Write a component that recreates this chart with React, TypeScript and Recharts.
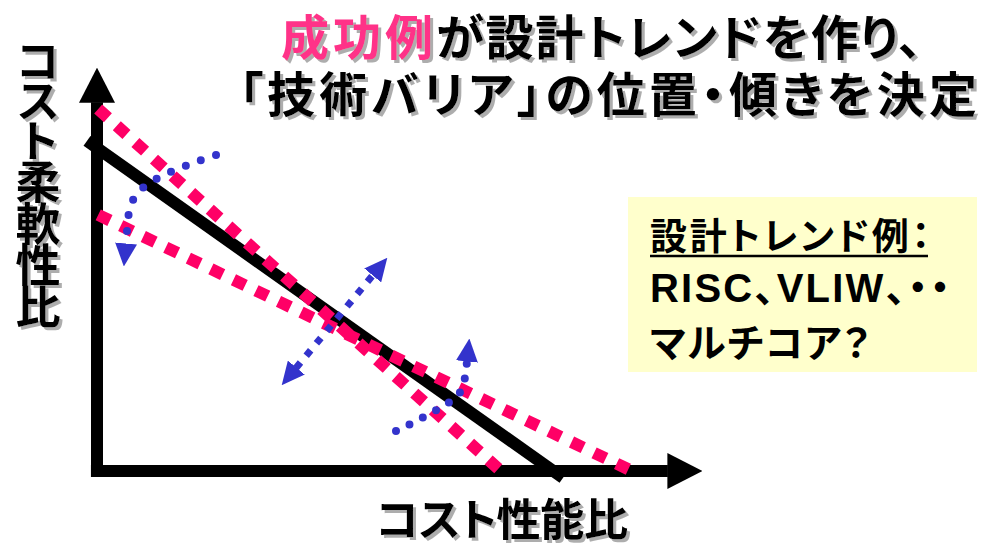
import { LineChart, Line, XAxis, YAxis } from 'recharts';

// diagram coordinates: % of axis length, origin at the axis corner
const AXIS_X = [{ x: -1, y: 0 }, { x: 94.2, y: 0 }];
const AXIS_Y = [{ x: 0, y: -1.5 }, { x: 0, y: 91.3 }];
const BARRIER = [{ x: -1.65, y: 81.7 }, { x: 76.9, y: -1.7 }];
const TREND_STEEP = [{ x: 0.2, y: 89.6 }, { x: 66.8, y: -0.2 }];
const TREND_SHALLOW = [{ x: 0.2, y: 63.4 }, { x: 88, y: 0.2 }];
const SHIFT_UPPER = [
  { x: 19.64, y: 78.22 },
  { x: 14.52, y: 75.5 },
  { x: 9.74, y: 72.28 },
  { x: 5.94, y: 67.08 },
  { x: 4.95, y: 59.41 },
  { x: 4.79, y: 56.19 },
];
const SHIFT_CROSS = [{ x: 32.84, y: 25.5 }, { x: 45.54, y: 48.51 }];
const SHIFT_LOWER = [
  { x: 49.34, y: 9.9 },
  { x: 53.96, y: 13.37 },
  { x: 58.42, y: 17.33 },
  { x: 60.4, y: 21.04 },
  { x: 61.06, y: 27.23 },
];

const TITLE_PINK = '成功例';
const TITLE_REST = 'が設計トレンドを作り、';
const TITLE_LINE2 = '「技術バリア」の位置・傾きを決定';
const Y_LABEL = 'コスト柔軟性比';
const X_LABEL = 'コスト性能比';
const BOX_LINES = ['設計トレンド例：', 'RISC、VLIW、・・', 'マルチコア？'];

const W = 986;
const H = 545;
const ORIGIN_X = 97;
const ORIGIN_Y = 471;
const PX_X = 6.06;
const PX_Y = 4.04;
const X_DOMAIN: [number, number] = [-ORIGIN_X / PX_X, (W - ORIGIN_X) / PX_X];
const Y_DOMAIN: [number, number] = [-(H - ORIGIN_Y) / PX_Y, ORIGIN_Y / PX_Y];

const PINK = '#ff0066';
const BLUE = '#3333cc';
const JP = "'Noto Sans CJK JP', sans-serif";

function Label({ x, y, children, fill = '#000', size, length, anchor = 'start', family = JP, shadow = true }: any) {
  return (
    <text
      x={x}
      y={y}
      fill={fill}
      fontFamily={family}
      fontWeight={700}
      fontSize={size}
      dominantBaseline="central"
      textAnchor={anchor}
      textLength={length}
      lengthAdjust={length ? 'spacing' : undefined}
      filter={shadow ? 'url(#textShadow)' : undefined}
      style={{ fontFeatureSettings: '"palt"' }}
    >
      {children}
    </text>
  );
}

export default function App() {
  return (
    <div style={{ position: 'absolute', left: 0, top: 0, width: W, height: H, background: '#fff' }}>
      <svg width={0} height={0} style={{ position: 'absolute' }}>
        <defs>
          <marker id="axisHead" viewBox="0 0 35 36" refX={0.5} refY={18} markerWidth={35} markerHeight={36} markerUnits="userSpaceOnUse" orient="auto">
            <path d="M0,0 L35,18 L0,36 Z" fill="#000" />
          </marker>
          <marker id="blueHead" viewBox="0 0 23 22" refX={0.5} refY={11} markerWidth={23} markerHeight={22} markerUnits="userSpaceOnUse" orient="auto">
            <path d="M0,0 L23,11 L0,22 Z" fill={BLUE} />
          </marker>
          <marker id="blueHeadStart" viewBox="0 0 23 22" refX={22.5} refY={11} markerWidth={23} markerHeight={22} markerUnits="userSpaceOnUse" orient="auto">
            <path d="M23,0 L0,11 L23,22 Z" fill={BLUE} />
          </marker>
          <filter id="textShadow" x="-10%" y="-20%" width="130%" height="150%">
            <feDropShadow dx={3} dy={3} stdDeviation={0.6} floodColor="#999" floodOpacity={0.8} />
          </filter>
        </defs>
      </svg>
      <LineChart width={W} height={H} margin={{ top: 0, right: 0, bottom: 0, left: 0 }}>
        <XAxis type="number" dataKey="x" domain={X_DOMAIN} hide allowDataOverflow />
        <YAxis type="number" dataKey="y" domain={Y_DOMAIN} hide allowDataOverflow />
        <Line data={AXIS_X} dataKey="y" stroke="#000" strokeWidth={12} dot={false} activeDot={false} isAnimationActive={false} markerEnd="url(#axisHead)" />
        <Line data={AXIS_Y} dataKey="y" stroke="#000" strokeWidth={12} dot={false} activeDot={false} isAnimationActive={false} markerEnd="url(#axisHead)" />
        <Line data={BARRIER} dataKey="y" stroke="#000" strokeWidth={12} dot={false} activeDot={false} isAnimationActive={false} />
        <Line data={TREND_STEEP} dataKey="y" stroke={PINK} strokeWidth={12} strokeDasharray="13 12" dot={false} activeDot={false} isAnimationActive={false} />
        <Line data={TREND_SHALLOW} dataKey="y" stroke={PINK} strokeWidth={12} strokeDasharray="13 12" dot={false} activeDot={false} isAnimationActive={false} />
        <Line data={SHIFT_UPPER} dataKey="y" type="natural" stroke={BLUE} strokeWidth={8} strokeLinecap="round" strokeDasharray="0 16" dot={false} activeDot={false} isAnimationActive={false} markerEnd="url(#blueHead)" />
        <Line data={SHIFT_CROSS} dataKey="y" stroke={BLUE} strokeWidth={7} strokeDasharray="7 9" dot={false} activeDot={false} isAnimationActive={false} markerStart="url(#blueHeadStart)" markerEnd="url(#blueHead)" />
        <Line data={SHIFT_LOWER} dataKey="y" type="natural" stroke={BLUE} strokeWidth={8} strokeLinecap="round" strokeDasharray="0 15" dot={false} activeDot={false} isAnimationActive={false} markerEnd="url(#blueHead)" />
      </LineChart>
      <svg width={W} height={H} style={{ position: 'absolute', left: 0, top: 0, pointerEvents: 'none' }}>
        <Label x={281} y={34} size={48} fill="#ff3388" length={152}>{TITLE_PINK}</Label>
        <Label x={436} y={34} size={48} length={486}>{TITLE_REST}</Label>
        <Label x={239} y={91} size={48} length={738}>{TITLE_LINE2}</Label>
        <text
          x={38}
          y={41}
          fontFamily={JP}
          fontWeight={700}
          fontSize={45}
          textLength={288}
          lengthAdjust="spacing"
          filter="url(#textShadow)"
          style={{ writingMode: 'vertical-rl', fontFeatureSettings: '"vpal"' }}
        >
          {Y_LABEL}
        </text>
        <Label x={376} y={517} size={44} length={252}>{X_LABEL}</Label>
        <rect x={628} y={197} width={349} height={175} fill="#ffffcc" />
        <Label x={650} y={234} size={37} length={280} shadow={false}>{BOX_LINES[0]}</Label>
        <line x1={650} x2={928} y1={256} y2={256} stroke="#000" strokeWidth={2.5} />
        <Label x={650} y={288} size={40} length={300} shadow={false} family={"'Liberation Sans', 'Noto Sans CJK JP', sans-serif"}>{BOX_LINES[1]}</Label>
        <Label x={650} y={340} size={39} length={220} shadow={false}>{BOX_LINES[2]}</Label>
      </svg>
    </div>
  );
}
